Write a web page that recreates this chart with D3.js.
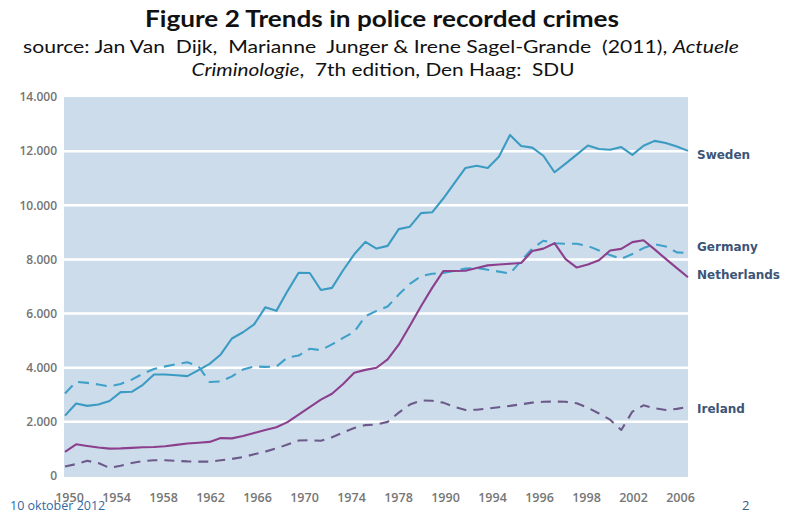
<!DOCTYPE html>
<html>
<head>
<meta charset="utf-8">
<script src="https://cdn.jsdelivr.net/npm/d3@7/dist/d3.min.js"></script>
<style>
  html, body { margin: 0; padding: 0; background: #ffffff; }
  svg { display: block; }
  .pre { white-space: pre; }
</style>
</head>
<body>
<svg id="chart" width="794" height="514"></svg>
<script>
// ---- data (one value per year 1950–2006) ----
const years = d3.range(1950, 2007);
const sweden = [2230,2680,2590,2640,2770,3100,3110,3370,3750,3750,3720,3690,3910,4140,4490,5080,5310,5600,6230,6100,6830,7510,7500,6870,6950,7600,8190,8650,8400,8500,9120,9210,9710,9740,10250,10820,11380,11460,11380,11790,12600,12190,12130,11830,11220,11540,11870,12210,12080,12050,12150,11860,12200,12380,12300,12170,12010];
const germany = [3050,3480,3440,3380,3310,3400,3560,3780,3950,4050,4130,4200,4050,3470,3490,3680,3930,4050,4030,4040,4380,4450,4700,4650,4860,5100,5330,5900,6100,6260,6700,7100,7380,7470,7500,7580,7660,7690,7620,7550,7480,7950,8400,8690,8600,8580,8580,8500,8330,8160,8020,8200,8420,8560,8480,8260,8240];
const netherlands = [895,1170,1110,1050,1010,1020,1040,1060,1070,1100,1150,1200,1230,1260,1400,1390,1480,1590,1700,1800,1990,2270,2540,2820,3040,3400,3810,3920,4000,4310,4850,5550,6270,6950,7570,7570,7580,7680,7780,7810,7840,7870,8310,8400,8600,8010,7700,7810,7970,8330,8390,8640,8710,8370,8020,7680,7340];
const ireland = [350,440,560,480,300,380,480,550,580,580,560,540,530,530,580,630,700,800,900,1020,1160,1310,1320,1300,1430,1610,1770,1880,1900,2000,2340,2640,2790,2780,2710,2550,2440,2450,2490,2540,2590,2650,2710,2740,2750,2740,2690,2520,2310,2080,1700,2380,2610,2500,2440,2480,2550];
const seriesNames = ["Sweden","Germany","Netherlands","Ireland"];
const xTickLabels = ["1950","1954","1958","1962","1966","1970","1974","1978","1990","1994","1996","1998","2002","2006"];
const yTicks = [0,2000,4000,6000,8000,10000,12000,14000];

const series = [
  {name: seriesNames[0], values: sweden,      color: "#3b9bc2", dash: null,   dy: 4},
  {name: seriesNames[1], values: germany,     color: "#3fa0c9", dash: "11,7", dy: -6},
  {name: seriesNames[2], values: netherlands, color: "#8b3f8d", dash: null,   dy: -2},
  {name: seriesNames[3], values: ireland,     color: "#6b5a8a", dash: "10,7", dy: 2}
];

const svg = d3.select("#chart");
const L = 64, R = 688, T = 97, B = 476;

const x = d3.scaleLinear().domain([1950, 2006]).range([L + 1, R]);
const y = d3.scaleLinear().domain([0, 14000]).range([B, T]);
const xl = d3.scalePoint().domain(xTickLabels).range([69, 680]);

// Titles
svg.append("text").attr("x", 382).attr("y", 27).attr("text-anchor", "middle")
  .attr("font-family", "Lato, 'Open Sans', sans-serif").attr("font-weight", "bold")
  .attr("font-size", 22).attr("fill", "#111")
  .attr("textLength", 474).attr("lengthAdjust", "spacingAndGlyphs")
  .text("Figure 2 Trends in police recorded crimes");

const sub1 = svg.append("text").attr("class", "pre").attr("x", 381).attr("y", 53).attr("text-anchor", "middle")
  .attr("font-family", "Lato, 'Open Sans', sans-serif").attr("font-size", 18).attr("fill", "#111")
  .attr("textLength", 716).attr("lengthAdjust", "spacingAndGlyphs");
sub1.append("tspan").text("source: Jan Van  Dijk,  Marianne  Junger & Irene Sagel-Grande  (2011), ");
sub1.append("tspan").attr("font-style", "italic").text("Actuele");

const sub2 = svg.append("text").attr("class", "pre").attr("x", 383).attr("y", 76).attr("text-anchor", "middle")
  .attr("font-family", "Lato, 'Open Sans', sans-serif").attr("font-size", 18).attr("fill", "#111")
  .attr("textLength", 383).attr("lengthAdjust", "spacingAndGlyphs");
sub2.append("tspan").attr("font-style", "italic").text("Criminologie");
sub2.append("tspan").text(",  7th edition, Den Haag:  SDU");

// Plot background
svg.append("rect").attr("x", L).attr("y", y(14000)).attr("width", R - L).attr("height", y(0) - y(14000) + 1)
  .attr("fill", "#cddcea");

// Gridlines
svg.append("g").selectAll("line").data(yTicks.filter(d => d > 0 && d < 14000)).join("line")
  .attr("x1", L).attr("x2", R).attr("y1", d => y(d)).attr("y2", d => y(d))
  .attr("stroke", "#ffffff").attr("stroke-width", 2.5);

// Y axis labels
const yAxis = d3.axisLeft(y).tickValues(yTicks).tickSize(0).tickPadding(0)
  .tickFormat(d => d === 0 ? "0" : d3.format(",")(d).replace(",", "."));
const gy = svg.append("g").attr("transform", `translate(${L - 7},0)`).call(yAxis);
gy.select(".domain").remove();
gy.selectAll("text").attr("font-family", "'Open Sans', sans-serif").attr("font-size", 12)
  .attr("font-weight", 600).attr("fill", "#747474");

// X axis labels
const xAxis = d3.axisBottom(xl).tickSize(0).tickPadding(0);
const gx = svg.append("g").attr("transform", `translate(0,493)`).call(xAxis);
gx.select(".domain").remove();
gx.selectAll("text").attr("font-family", "'Open Sans', sans-serif").attr("font-size", 12.5)
  .attr("font-weight", 600).attr("fill", "#767676");

// Lines
const line = d3.line().x((d, i) => x(years[i])).y(d => y(d));
svg.append("g").selectAll("path").data(series).join("path")
  .attr("d", s => line(s.values))
  .attr("fill", "none").attr("stroke", s => s.color).attr("stroke-width", 2.1)
  .attr("stroke-linejoin", "round")
  .attr("stroke-dasharray", s => s.dash);

// Series labels
svg.append("g").selectAll("text").data(series).join("text")
  .attr("x", R + 9).attr("y", s => y(s.values[s.values.length - 1]) + s.dy)
  .attr("dominant-baseline", "central")
  .attr("font-family", "'DejaVu Sans', Verdana, sans-serif").attr("font-weight", "bold")
  .attr("font-size", 12).attr("fill", "#3c5577")
  .text(s => s.name);

// Footer
svg.append("text").attr("x", 10).attr("y", 510)
  .attr("font-family", "'Open Sans', sans-serif").attr("font-size", 12.5).attr("fill", "#2f6aa6")
  .text("10 oktober 2012");
svg.append("text").attr("x", 742).attr("y", 510)
  .attr("font-family", "'Open Sans', sans-serif").attr("font-size", 13).attr("fill", "#3c5a86")
  .text("2");
</script>
</body>
</html>
